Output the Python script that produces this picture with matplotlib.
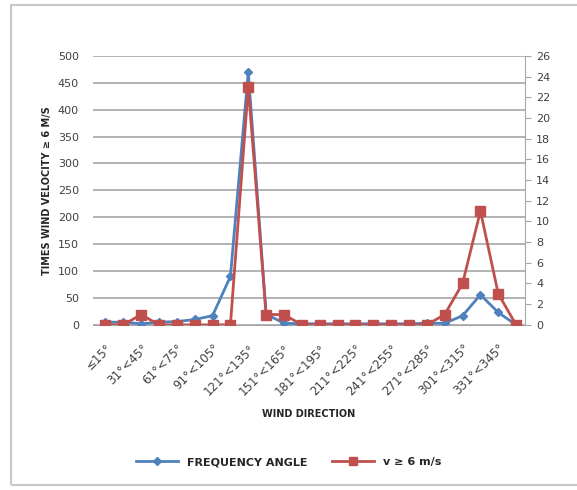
import matplotlib
matplotlib.use("Agg")
import matplotlib.pyplot as plt
from matplotlib.patches import Rectangle

# 24 direction bins of 15 degrees, only every other one gets a label
directions = ["≤15°", "16°<30°", "31°<45°", "46°<60°", "61°<75°", "76°<90°",
              "91°<105°", "106°<120°", "121°<135°", "136°<150°", "151°<165°", "166°<180°",
              "181°<195°", "196°<210°", "211°<225°", "226°<240°", "241°<255°", "256°<270°",
              "271°<285°", "286°<300°", "301°<315°", "316°<330°", "331°<345°", "346°<360°"]
frequency_angle = [5, 5, 2, 5, 6, 10, 17, 90, 470, 20, 3, 2,
                   2, 2, 2, 2, 2, 2, 3, 3, 17, 56, 23, 0]
v_ge_6 = [0, 0, 1, 0, 0, 0, 0, 0, 23, 1, 1, 0,
          0, 0, 0, 0, 0, 0, 0, 1, 4, 11, 3, 0]

blue = "#4F81BD"
red = "#C0504D"
grid_c = "#A6A6A6"
txt_c = "#404040"

fig = plt.figure(figsize=(5.77, 4.90), dpi=100)
fig.patches.append(Rectangle((11 / 577, 5 / 490), 570 / 577, 480 / 490,
                             transform=fig.transFigure, fill=False,
                             edgecolor="#C8C8C8", linewidth=1.5))

ax = fig.add_axes([0.161, 0.337, 0.749, 0.549])
ax2 = ax.twinx()

x = list(range(len(directions)))
l1, = ax.plot(x, frequency_angle, color=blue, marker="D", markersize=4.5, linewidth=2,
              label="FREQUENCY ANGLE", zorder=3)
l2, = ax2.plot(x, v_ge_6, color=red, marker="s", markersize=7, linewidth=2,
               label="v ≥ 6 m/s", zorder=3)

ax.set_xlim(-0.7, len(directions) - 0.5)
ax.set_ylim(0, 500)
ax.set_yticks(range(0, 501, 50))
ax2.set_ylim(0, 26)
ax2.set_yticks(range(0, 27, 2))
ax.grid(axis="y", color=grid_c, linewidth=1.2)
ax.set_axisbelow(True)

for s in ["top", "left", "right"]:
    ax.spines[s].set_visible(False)
    ax2.spines[s].set_visible(False)
ax2.spines["right"].set_visible(True)
ax2.spines["right"].set_color(grid_c)
ax.spines["bottom"].set_color(grid_c)
ax2.spines["bottom"].set_visible(False)

ax.tick_params(axis="y", length=0, labelsize=8, labelcolor=txt_c, pad=10)
ax2.tick_params(axis="y", length=4, color=grid_c, labelsize=8, labelcolor=txt_c, pad=4)

ax.set_xticks(x[::2])
ax.set_xticklabels(directions[::2], rotation=45, ha="right", rotation_mode="anchor",
                   fontsize=8.5, color=txt_c)
ax.tick_params(axis="x", length=0, pad=12)

ax.set_xlabel("WIND DIRECTION", fontsize=7, fontweight="bold", color="#262626", labelpad=8)
ax.set_ylabel("TIMES WIND VELOCITY ≥ 6 M/S", fontsize=7, fontweight="bold", color="#262626",
              labelpad=4)

fig.legend(handles=[l1, l2], loc="center", bbox_to_anchor=(0.5, 0.057), ncol=2,
           frameon=False, fontsize=8, handlelength=3.8, columnspacing=2.2, markerscale=0.8)
for t in fig.legends[0].get_texts():
    t.set_fontweight("bold")
    t.set_color("#262626")

fig.savefig("out.png", dpi=100)
